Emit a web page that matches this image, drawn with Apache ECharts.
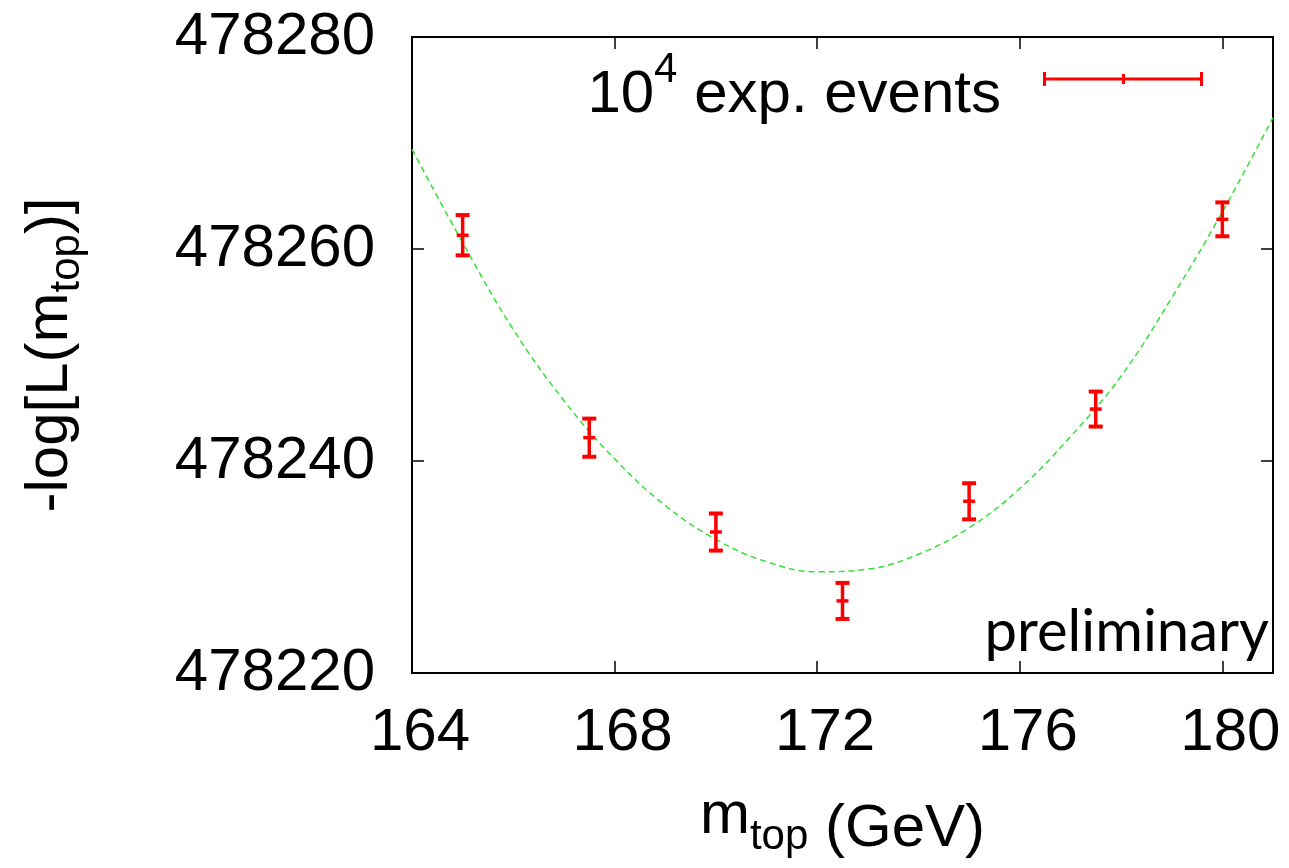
<!DOCTYPE html>
<html>
<head>
<meta charset="utf-8">
<script src="https://cdn.jsdelivr.net/npm/echarts@6/dist/echarts.min.js"></script>
<style>
  html, body { margin: 0; padding: 0; background: #fff; }
  #chart { width: 1289px; height: 868px; }
</style>
</head>
<body>
<div id="chart"></div>
<script>
  // measured points (top mass in GeV, -log L, error)
  const massPoints = [165, 167.5, 170, 172.5, 175, 177.5, 180];
  const logL = [478261.3, 478242.2, 478233.3, 478226.8, 478236.2, 478244.9, 478262.8];
  const errors = [1.9, 1.8, 1.75, 1.7, 1.7, 1.65, 1.6];

  // fitted curve
  const fitMass = [164, 165, 166, 167, 168, 169, 170, 171, 172, 173, 174, 175, 176, 177, 178, 179, 180, 181];
  const fitLogL = [478269.4, 478260.6, 478252.4, 478245.7, 478240.2, 478235.8, 478232.6, 478230.5, 478229.55,
                   478229.8, 478231.2, 478233.7, 478237.4, 478242.3, 478248.0, 478255.4, 478263.5, 478272.4];

  const xTicks = [164, 168, 172, 176, 180];
  const yTicks = [478220, 478240, 478260, 478280];

  const FONT = '"Liberation Sans", Arial, Helvetica, sans-serif';
  const RED = '#ff0000';

  const chart = echarts.init(document.getElementById('chart'));

  /*  error bar with caps and a centre mark */
  function renderErrorBar(params, api) {
    const x = api.value(0), y = api.value(1), e = api.value(2);
    const top = api.coord([x, y + e]);
    const bot = api.coord([x, y - e]);
    const mid = api.coord([x, y]);
    const hw = 7;
    const bar = { stroke: RED, lineWidth: 3.5, fill: null };
    const cap = { stroke: RED, lineWidth: 4, fill: null };
    return {
      type: 'group',
      children: [
        { type: 'line', shape: { x1: top[0], y1: top[1], x2: bot[0], y2: bot[1] }, style: bar },
        { type: 'line', shape: { x1: top[0] - hw, y1: top[1], x2: top[0] + hw, y2: top[1] }, style: cap },
        { type: 'line', shape: { x1: bot[0] - hw, y1: bot[1], x2: bot[0] + hw, y2: bot[1] }, style: cap },
        { type: 'line', shape: { x1: mid[0] - 6, y1: mid[1], x2: mid[0] + 6, y2: mid[1] }, style: { stroke: RED, lineWidth: 3.5 } }
      ]
    };
  }

  const axisLine = { show: true, onZero: false, lineStyle: { color: '#000', width: 2 } };
  const axisTick = { show: true, inside: true, length: 12, lineStyle: { color: '#000', width: 1.5 } };

  const option = {
    backgroundColor: '#fff',
    animation: false,
    grid: { left: 412, right: 16, top: 37, bottom: 195, show: false },
    legend: {
      data: [{ name: 'exp', icon: 'path://M0,0h3v14h-3z M0,5.5h160v3h-160z M157,0h3v14h-3z M79,2h3v10h-3z' }],
      right: 86,
      top: 49,
      padding: 0,
      align: 'right',
      itemWidth: 162,
      itemHeight: 14,
      selectedMode: false,
      formatter: function () { return '{n|10}{s|4}{e| exp. events}'; },
      textStyle: {
        fontFamily: FONT,
        rich: {
          n: { fontFamily: FONT, fontSize: 60, lineHeight: 60, color: '#000', verticalAlign: 'top', padding: [16, 0, 0, 0] },
          s: { fontFamily: FONT, fontSize: 42, lineHeight: 42, color: '#000', verticalAlign: 'top' },
          e: { fontFamily: FONT, fontSize: 60, lineHeight: 60, color: '#000', verticalAlign: 'top', padding: [16, 36, 0, 0] }
        }
      }
    },
    graphic: [{
      type: 'text',
      right: 20,
      top: 603,
      style: {
        text: 'preliminary',
        font: '58px Lato, "Open Sans", sans-serif',
        fill: '#000'
      }
    }],
    xAxis: [{
      type: 'value',
      min: 164,
      max: 181,
      interval: 4,
      name: '{m|m}{s|top}{g| (GeV)}',
      nameLocation: 'middle',
      nameGap: 113,
      nameTextStyle: {
        rich: {
          m: { fontFamily: FONT, fontSize: 60, lineHeight: 60, color: '#000', verticalAlign: 'top' },
          s: { fontFamily: FONT, fontSize: 42, lineHeight: 42, color: '#000', verticalAlign: 'top', padding: [30, 0, 0, 0] },
          g: { fontFamily: FONT, fontSize: 60, lineHeight: 60, color: '#000', verticalAlign: 'top', padding: [13, 0, 0, 0] }
        }
      },
      axisLine: axisLine,
      axisTick: axisTick,
      splitLine: { show: false },
      axisLabel: {
        margin: 30,
        padding: [0, 0, 0, 16],
        fontFamily: FONT,
        fontSize: 60,
        color: '#000',
        showMaxLabel: false,
        formatter: function (v) { return xTicks.indexOf(v) >= 0 ? String(v) : ''; }
      }
    }, {
      type: 'value',
      position: 'top',
      min: 164,
      max: 181,
      interval: 4,
      axisLine: axisLine,
      axisTick: axisTick,
      splitLine: { show: false },
      axisLabel: { show: false }
    }],
    yAxis: [{
      type: 'value',
      min: 478220,
      max: 478280,
      interval: 20,
      name: '{m|-log[L(m}{s|top}{m|)]}',
      nameLocation: 'middle',
      nameGap: 332,
      nameRotate: 90,
      nameTextStyle: {
        rich: {
          m: { fontFamily: FONT, fontSize: 60, lineHeight: 60, color: '#000', verticalAlign: 'top' },
          s: { fontFamily: FONT, fontSize: 42, lineHeight: 42, color: '#000', verticalAlign: 'top', padding: [26, 0, 0, 0] }
        }
      },
      axisLine: axisLine,
      axisTick: axisTick,
      splitLine: { show: false },
      axisLabel: {
        margin: 37,
        fontFamily: FONT,
        fontSize: 60,
        color: '#000',
        formatter: function (v) { return yTicks.indexOf(v) >= 0 ? String(v) : ''; }
      }
    }, {
      type: 'value',
      position: 'right',
      min: 478220,
      max: 478280,
      interval: 20,
      axisLine: axisLine,
      axisTick: axisTick,
      splitLine: { show: false },
      axisLabel: { show: false }
    }],
    series: [{
      name: 'fit',
      type: 'line',
      data: fitMass.map(function (m, i) { return [m, fitLogL[i]]; }),
      smooth: 0.4,
      showSymbol: false,
      symbol: 'none',
      clip: true,
      lineStyle: { color: '#33e033', width: 1.5, type: [6, 4] },
      z: 2
    }, {
      name: 'exp',
      type: 'custom',
      renderItem: renderErrorBar,
      itemStyle: { color: RED },
      encode: { x: 0, y: 1 },
      data: massPoints.map(function (m, i) { return [m, logL[i], errors[i]]; }),
      z: 3
    }]
  };

  chart.setOption(option);
</script>
</body>
</html>
